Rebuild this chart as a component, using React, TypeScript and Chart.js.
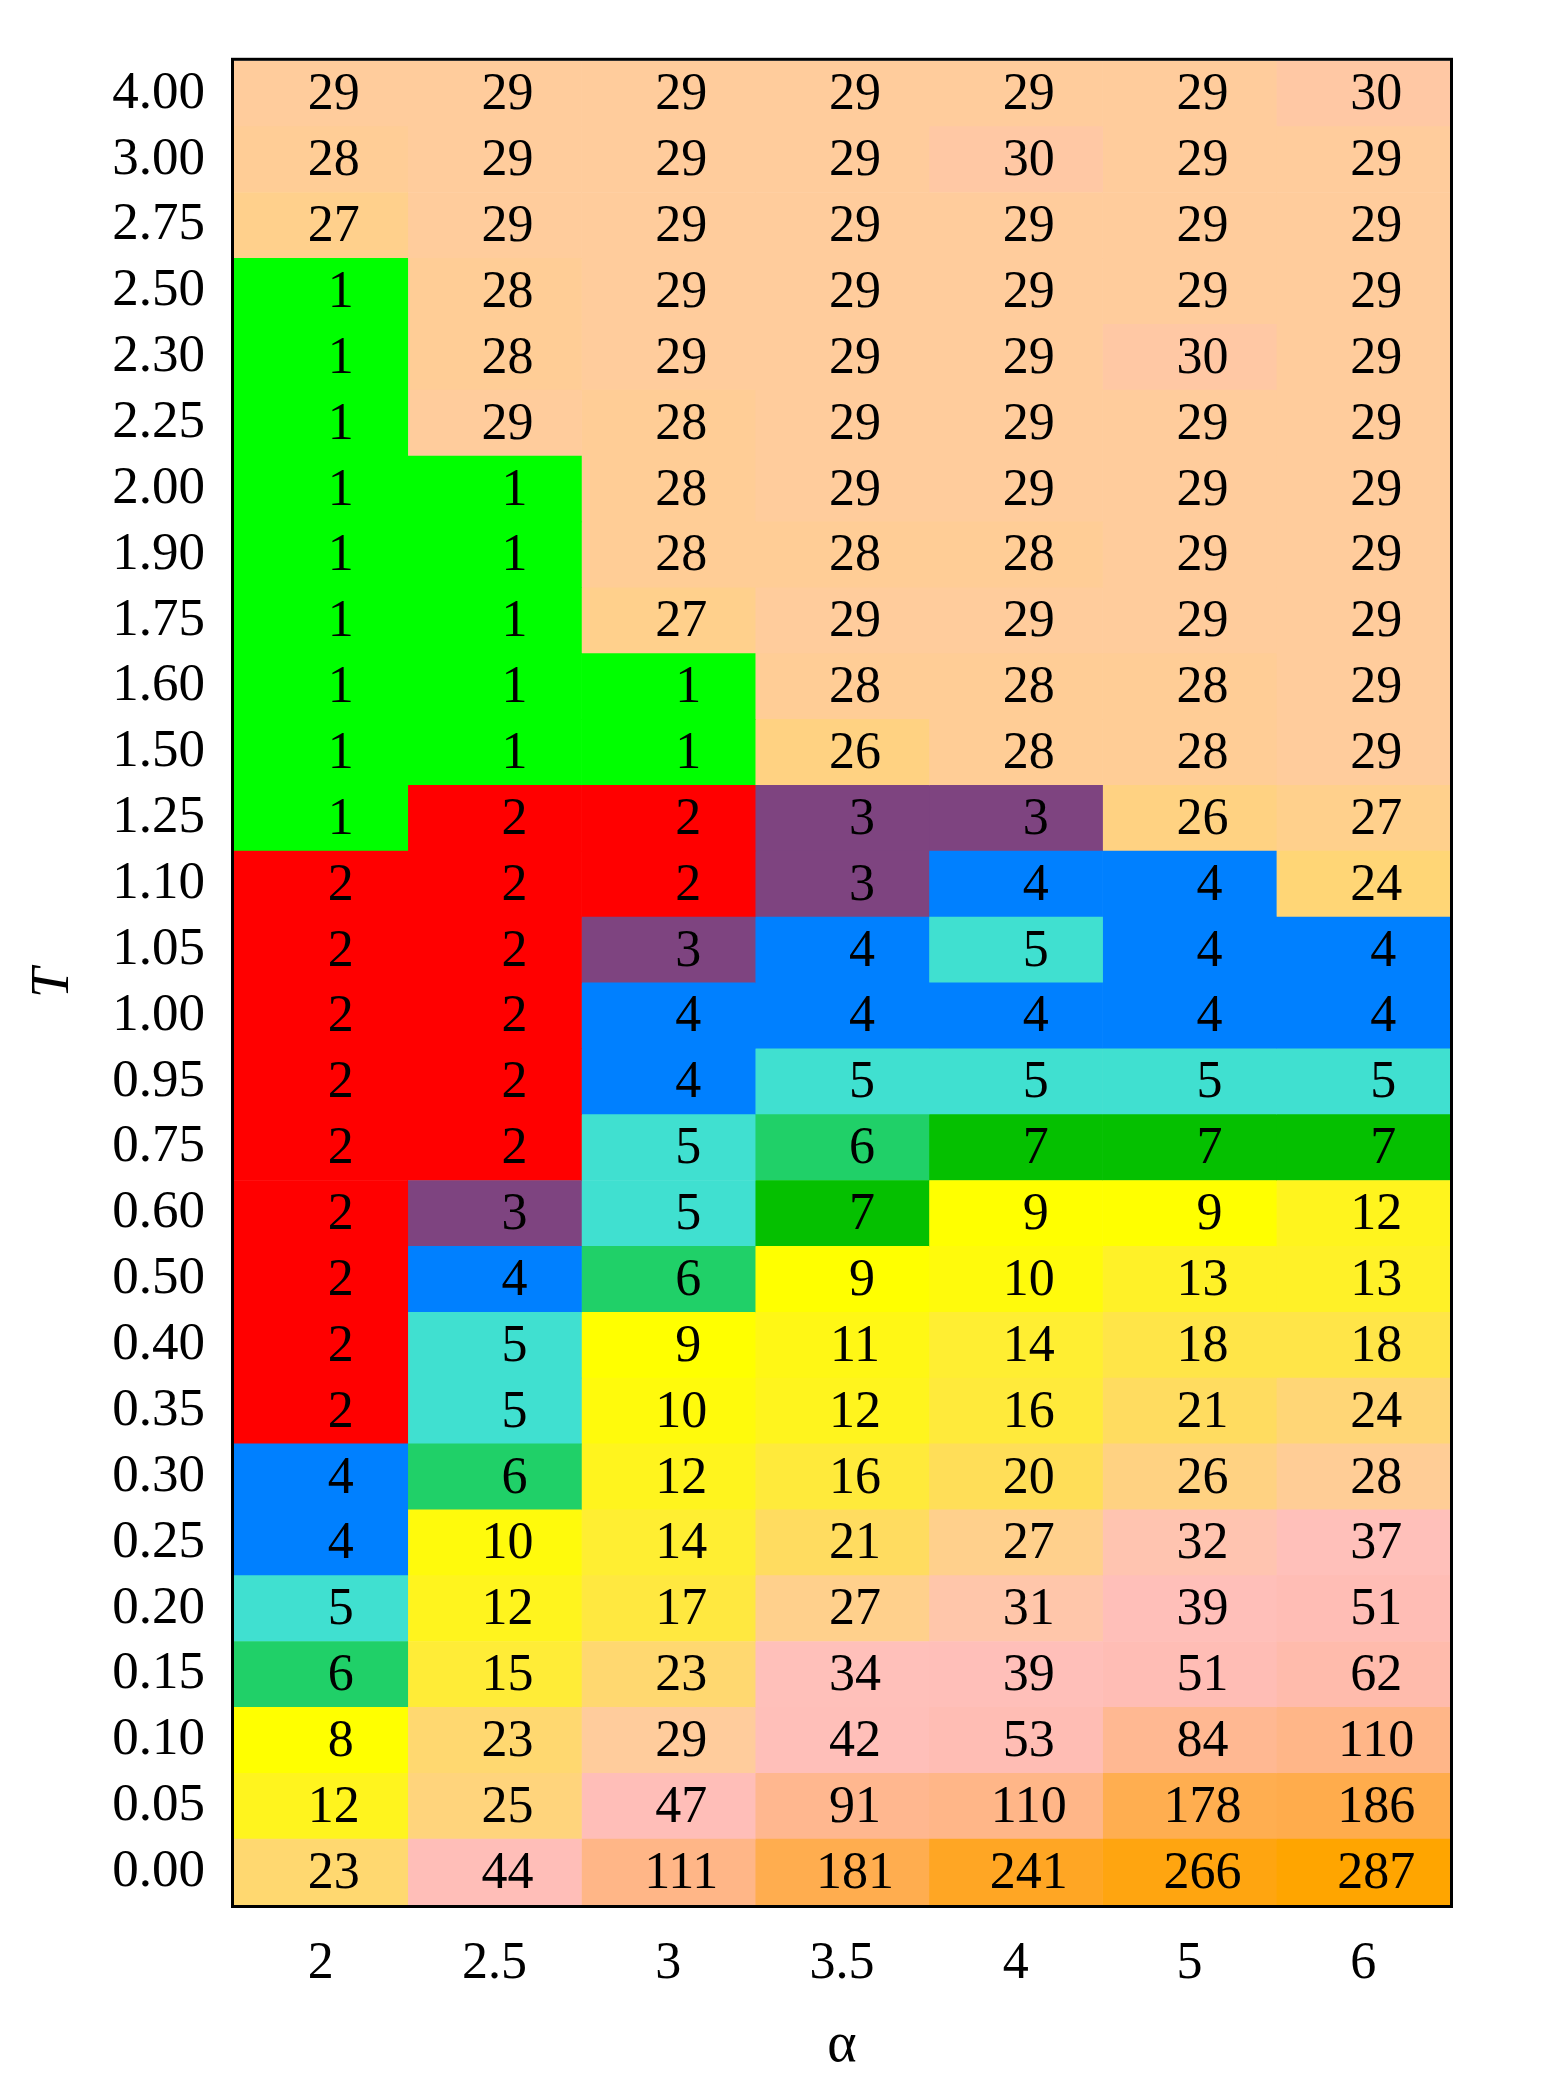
import React, { useEffect, useRef } from 'react';
import { Chart, registerables } from 'chart.js';

Chart.register(...registerables);

// T values, listed top to bottom
const tLabels = ['4.00', '3.00', '2.75', '2.50', '2.30', '2.25', '2.00', '1.90', '1.75', '1.60', '1.50', '1.25', '1.10', '1.05', '1.00', '0.95', '0.75', '0.60', '0.50', '0.40', '0.35', '0.30', '0.25', '0.20', '0.15', '0.10', '0.05', '0.00'];
// alpha values, left to right
const alphaLabels = ['2', '2.5', '3', '3.5', '4', '5', '6'];

// cell values per alpha column, top (T=4.00) to bottom (T=0.00)
const countsA2 = [29, 28, 27, 1, 1, 1, 1, 1, 1, 1, 1, 1, 2, 2, 2, 2, 2, 2, 2, 2, 2, 4, 4, 5, 6, 8, 12, 23];
const countsA25 = [29, 29, 29, 28, 28, 29, 1, 1, 1, 1, 1, 2, 2, 2, 2, 2, 2, 3, 4, 5, 5, 6, 10, 12, 15, 23, 25, 44];
const countsA3 = [29, 29, 29, 29, 29, 28, 28, 28, 27, 1, 1, 2, 2, 3, 4, 4, 5, 5, 6, 9, 10, 12, 14, 17, 23, 29, 47, 111];
const countsA35 = [29, 29, 29, 29, 29, 29, 29, 28, 29, 28, 26, 3, 3, 4, 4, 5, 6, 7, 9, 11, 12, 16, 21, 27, 34, 42, 91, 181];
const countsA4 = [29, 30, 29, 29, 29, 29, 29, 28, 29, 28, 28, 3, 4, 5, 4, 5, 7, 9, 10, 14, 16, 20, 27, 31, 39, 53, 110, 241];
const countsA5 = [29, 29, 29, 29, 30, 29, 29, 29, 29, 28, 28, 26, 4, 4, 4, 5, 7, 9, 13, 18, 21, 26, 32, 39, 51, 84, 178, 266];
const countsA6 = [30, 29, 29, 29, 29, 29, 29, 29, 29, 29, 29, 27, 24, 4, 4, 5, 7, 12, 13, 18, 24, 28, 37, 51, 62, 110, 186, 287];

const columns = [countsA2, countsA25, countsA3, countsA35, countsA4, countsA5, countsA6];

// categorical colours for small values
const smallColors: Record<number, string> = {
  1: '#00ff00',
  2: '#ff0000',
  3: '#7e4480',
  4: '#0080ff',
  5: '#40e0d0',
  6: '#20d068',
  7: '#05c000',
};

// colour ramp stops for larger values
const rampStops: [number, number, number, number][] = [
  [8, 255, 255, 0],
  [9, 255, 255, 0],
  [10, 255, 250, 12],
  [12, 255, 244, 30],
  [14, 255, 238, 50],
  [17, 255, 232, 64],
  [20, 255, 222, 88],
  [23, 255, 216, 112],
  [26, 255, 210, 130],
  [28, 255, 205, 150],
  [29, 255, 204, 156],
  [30, 255, 200, 164],
  [32, 255, 196, 176],
  [34, 255, 192, 186],
  [47, 255, 190, 184],
  [53, 255, 189, 180],
  [62, 255, 187, 172],
  [84, 255, 184, 146],
  [110, 255, 182, 136],
  [178, 255, 174, 80],
  [186, 255, 172, 76],
  [241, 255, 166, 36],
  [287, 255, 165, 0],
];

function colorFor(v: number): string {
  if (smallColors[v]) return smallColors[v];
  if (v <= rampStops[0][0]) {
    const s = rampStops[0];
    return `rgb(${s[1]},${s[2]},${s[3]})`;
  }
  for (let i = 1; i < rampStops.length; i++) {
    const b = rampStops[i];
    if (v <= b[0]) {
      const a = rampStops[i - 1];
      const t = (v - a[0]) / (b[0] - a[0]);
      const r = Math.round(a[1] + (b[1] - a[1]) * t);
      const g = Math.round(a[2] + (b[2] - a[2]) * t);
      const bl = Math.round(a[3] + (b[3] - a[3]) * t);
      return `rgb(${r},${g},${bl})`;
    }
  }
  const s = rampStops[rampStops.length - 1];
  return `rgb(${s[1]},${s[2]},${s[3]})`;
}

const FONT_FAMILY = '"Liberation Serif", "Times New Roman", Times, serif';

const cellTextPlugin = {
  id: 'cellText',
  afterDatasetsDraw(chart: any) {
    const ctx = chart.ctx;
    ctx.save();
    ctx.font = `52px ${FONT_FAMILY}`;
    ctx.fillStyle = '#000';
    ctx.textAlign = 'center';
    ctx.textBaseline = 'middle';
    chart.data.datasets.forEach((_ds: any, di: number) => {
      const meta = chart.getDatasetMeta(di);
      meta.data.forEach((el: any, i: number) => {
        const s = String(columns[di][i]);
        const p = el.getCenterPoint();
        const dx = s.length === 1 ? 20 : s.length === 2 ? 13 : 13;
        ctx.fillText(s, p.x + dx, p.y + 2);
      });
    });
    const { left, top, right, bottom } = chart.chartArea;
    ctx.lineWidth = 3;
    ctx.strokeStyle = '#000';
    ctx.strokeRect(left - 1.5, top - 1.5, right - left + 3, bottom - top + 3);
    ctx.restore();
  },
};

export default function App() {
  const canvasRef = useRef<HTMLCanvasElement | null>(null);

  useEffect(() => {
    const canvas = canvasRef.current;
    if (!canvas) return;
    const chart = new Chart(canvas, {
      type: 'bar',
      data: {
        labels: tLabels,
        datasets: columns.map((col, j) => ({
          label: alphaLabels[j],
          data: col.map(() => [j, j + 1]),
          backgroundColor: col.map(colorFor),
          borderWidth: 0,
          barPercentage: 1,
          categoryPercentage: 1,
          grouped: false,
        })) as any,
      },
      options: {
        indexAxis: 'y',
        responsive: false,
        animation: false,
        layout: { padding: { top: 57, right: 112, left: 0, bottom: 0 } },
        plugins: {
          legend: { display: false },
          tooltip: { enabled: false },
        },
        scales: {
          x: {
            type: 'linear',
            min: 0,
            max: 7,
            grid: { display: false, drawTicks: false },
            border: { display: false },
            afterBuildTicks: (axis: any) => {
              axis.ticks = alphaLabels.map((_, i) => ({ value: i + 0.5 }));
            },
            afterFit: (axis: any) => {
              axis.height = 177;
            },
            ticks: {
              callback: (_v: any, i: number) => alphaLabels[i],
              font: { family: FONT_FAMILY, size: 52 },
              color: '#000',
              padding: 28,
              maxRotation: 0,
              autoSkip: false,
            },
            title: {
              display: true,
              text: 'α',
              font: { family: FONT_FAMILY, size: 56 },
              color: '#000',
              padding: { top: 0, bottom: 2 },
            },
          },
          y: {
            type: 'category',
            grid: { display: false, drawTicks: false },
            border: { display: false },
            afterFit: (axis: any) => {
              axis.width = 234;
            },
            ticks: {
              font: { family: FONT_FAMILY, size: 53 },
              color: '#000',
              padding: 29,
              autoSkip: false,
            },
            title: {
              display: true,
              text: 'T',
              font: { family: FONT_FAMILY, size: 54, style: 'italic' },
              color: '#000',
              padding: { top: 21, bottom: 0 },
            },
          },
        },
      } as any,
      plugins: [cellTextPlugin],
    });
    return () => chart.destroy();
  }, []);

  return (
    <div style={{ position: 'absolute', left: 0, top: 0, width: 1562, height: 2082, background: '#fff' }}>
      <canvas ref={canvasRef} width={1562} height={2082} style={{ display: 'block', width: 1562, height: 2082 }} />
    </div>
  );
}
